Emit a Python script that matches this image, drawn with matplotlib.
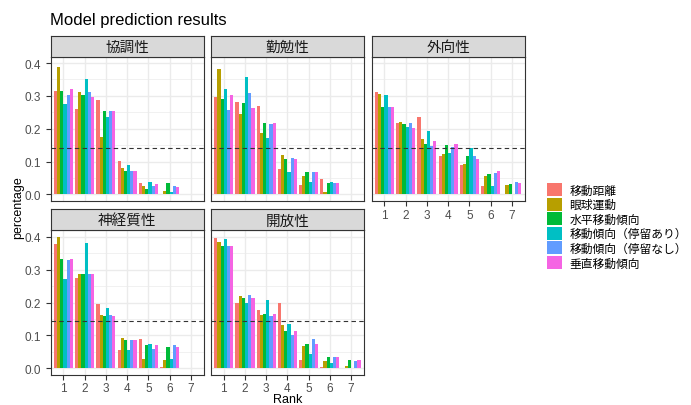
"""Faceted grouped bars: model prediction results per trait"""
import numpy as np
import matplotlib
matplotlib.use("Agg")
import matplotlib.pyplot as plt
from matplotlib.patches import Patch

plt.rcParams['font.family'] = ['Liberation Sans', 'Noto Sans CJK JP', 'DejaVu Sans']

# ---- data ----
ranks = [1, 2, 3, 4, 5, 6, 7]
series = ['移動距離', '眼球運動', '水平移動傾向', '移動傾向（停留あり）', '移動傾向（停留なし）', '垂直移動傾向']
colors = ['#F8766D', '#B79F00', '#00BA38', '#00BFC4', '#619CFF', '#F564E3']
facets = ['協調性', '勤勉性', '外向性', '神経質性', '開放性']

# values[facet][series] -> rank 1..7
kyochosei = [
    [0.314, 0.261, 0.289, 0.102, 0.034, 0.000, 0.000],
    [0.389, 0.311, 0.175, 0.082, 0.027, 0.011, 0.000],
    [0.314, 0.302, 0.255, 0.071, 0.017, 0.035, 0.000],
    [0.275, 0.350, 0.237, 0.089, 0.038, 0.008, 0.000],
    [0.304, 0.313, 0.255, 0.070, 0.027, 0.026, 0.000],
    [0.320, 0.296, 0.255, 0.071, 0.031, 0.023, 0.000],
]
kinbensei = [
    [0.298, 0.280, 0.268, 0.078, 0.030, 0.046, 0.000],
    [0.381, 0.245, 0.188, 0.119, 0.057, 0.007, 0.000],
    [0.290, 0.277, 0.216, 0.109, 0.069, 0.035, 0.000],
    [0.322, 0.358, 0.172, 0.069, 0.037, 0.039, 0.000],
    [0.256, 0.310, 0.215, 0.112, 0.069, 0.036, 0.000],
    [0.303, 0.264, 0.216, 0.109, 0.069, 0.035, 0.000],
]
gaikosei = [
    [0.313, 0.216, 0.236, 0.117, 0.089, 0.027, 0.000],
    [0.305, 0.221, 0.169, 0.124, 0.093, 0.057, 0.030],
    [0.266, 0.215, 0.155, 0.149, 0.118, 0.063, 0.033],
    [0.302, 0.205, 0.194, 0.127, 0.142, 0.027, 0.000],
    [0.265, 0.219, 0.148, 0.145, 0.118, 0.066, 0.038],
    [0.265, 0.203, 0.163, 0.153, 0.107, 0.072, 0.035],
]
shinkeishitsu = [
    [0.378, 0.276, 0.196, 0.055, 0.088, 0.004, 0.000],
    [0.400, 0.288, 0.162, 0.092, 0.029, 0.024, 0.000],
    [0.332, 0.286, 0.158, 0.087, 0.069, 0.063, 0.000],
    [0.273, 0.380, 0.184, 0.056, 0.073, 0.029, 0.000],
    [0.330, 0.287, 0.163, 0.087, 0.058, 0.070, 0.000],
    [0.332, 0.286, 0.158, 0.087, 0.069, 0.063, 0.000],
]
kaihosei = [
    [0.396, 0.198, 0.177, 0.198, 0.026, 0.004, 0.000],
    [0.384, 0.220, 0.162, 0.131, 0.068, 0.022, 0.005],
    [0.371, 0.213, 0.165, 0.112, 0.073, 0.034, 0.024],
    [0.392, 0.199, 0.207, 0.135, 0.043, 0.017, 0.000],
    [0.371, 0.222, 0.159, 0.101, 0.088, 0.033, 0.021],
    [0.371, 0.213, 0.165, 0.113, 0.073, 0.033, 0.024],
]
facet_values = [kyochosei, kinbensei, gaikosei, shinkeishitsu, kaihosei]
chance_level = 1 / 7

# ---- layout (pixels) ----
W, H = 691, 406
fig = plt.figure(figsize=(W / 100, H / 100), dpi=100)


def px_axes(x, y, w, h):
    return fig.add_axes([x / W, 1 - (y + h) / H, w / W, h / H])


col_left = [50.7, 211.0, 371.7]
panel_w = 152.8
rows = [(36.7, 57.5, 202.0), (210.0, 231.3, 375.7)]  # strip top, panel top, panel bottom

positions = [(0, 0), (0, 1), (0, 2), (1, 0), (1, 1)]
show_x = [False, False, True, True, True]
show_y = [True, False, False, True, False]

edge = '#333333'
grid_c = '#EBEBEB'
n = len(series)
bw = 0.9 / n

for k, (name, vals) in enumerate(zip(facets, facet_values)):
    r, c = positions[k]
    s_top, p_top, p_bot = rows[r]
    ax = px_axes(col_left[c], p_top, panel_w, p_bot - p_top)
    sax = px_axes(col_left[c], s_top, panel_w, p_top - s_top)

    # strip
    sax.set_facecolor('#D9D9D9')
    sax.set_xticks([])
    sax.set_yticks([])
    for sp in sax.spines.values():
        sp.set_color(edge)
        sp.set_linewidth(0.8)
    sax.text(0.5, 0.45, name, ha='center', va='center', fontsize=10.5,
             color='#1A1A1A', transform=sax.transAxes)

    # grid
    ax.set_xlim(0.4, 7.6)
    ax.set_ylim(-0.02, 0.42)
    ax.set_yticks([0, 0.1, 0.2, 0.3, 0.4])
    ax.set_yticks([0.05, 0.15, 0.25, 0.35], minor=True)
    ax.set_xticks(ranks)
    ax.grid(True, which='major', color=grid_c, linewidth=1.0)
    ax.grid(True, which='minor', axis='y', color=grid_c, linewidth=0.5)
    ax.set_axisbelow(True)

    for j in range(n):
        x = np.array(ranks) - 0.45 + bw / 2 + j * bw
        ax.bar(x, vals[j], width=bw, color=colors[j], linewidth=0)

    ax.axhline(chance_level, color='#333333', linestyle=(0, (4, 3)), linewidth=0.8)

    for sp in ax.spines.values():
        sp.set_color(edge)
        sp.set_linewidth(0.8)
    ax.tick_params(which='both', length=0)
    ax.tick_params(which='major', labelsize=8.5, labelcolor='#4D4D4D', color=edge, width=0.8)
    if show_x[k]:
        ax.tick_params(axis='x', length=3.5, pad=2)
        ax.set_xticklabels([str(v) for v in ranks])
    else:
        ax.set_xticklabels([])
    if show_y[k]:
        ax.tick_params(axis='y', length=3.5)
        ax.set_yticklabels(['0.0', '0.1', '0.2', '0.3', '0.4'])
    else:
        ax.set_yticklabels([])

# titles
fig.text(50 / W, 1 - 20 / H, 'Model prediction results', fontsize=12, ha='left',
         va='center', color='black')
fig.text(18 / W, 1 - 208 / H, 'percentage', rotation=90, fontsize=9,
         ha='center', va='center')
fig.text(287.5 / W, 1 - 403.3 / H, 'Rank', fontsize=9, ha='center', va='baseline')

# legend
handles = [Patch(facecolor=col, edgecolor='none') for col in colors]
fig.legend(handles, series, loc='center left', bbox_to_anchor=(547 / W, 1 - 227.3 / H),
           frameon=False, fontsize=8.5, handlelength=1.3, handleheight=1.3,
           labelspacing=0.1, handletextpad=0.6, borderpad=0, borderaxespad=0)

fig.savefig('out.png', dpi=100)
